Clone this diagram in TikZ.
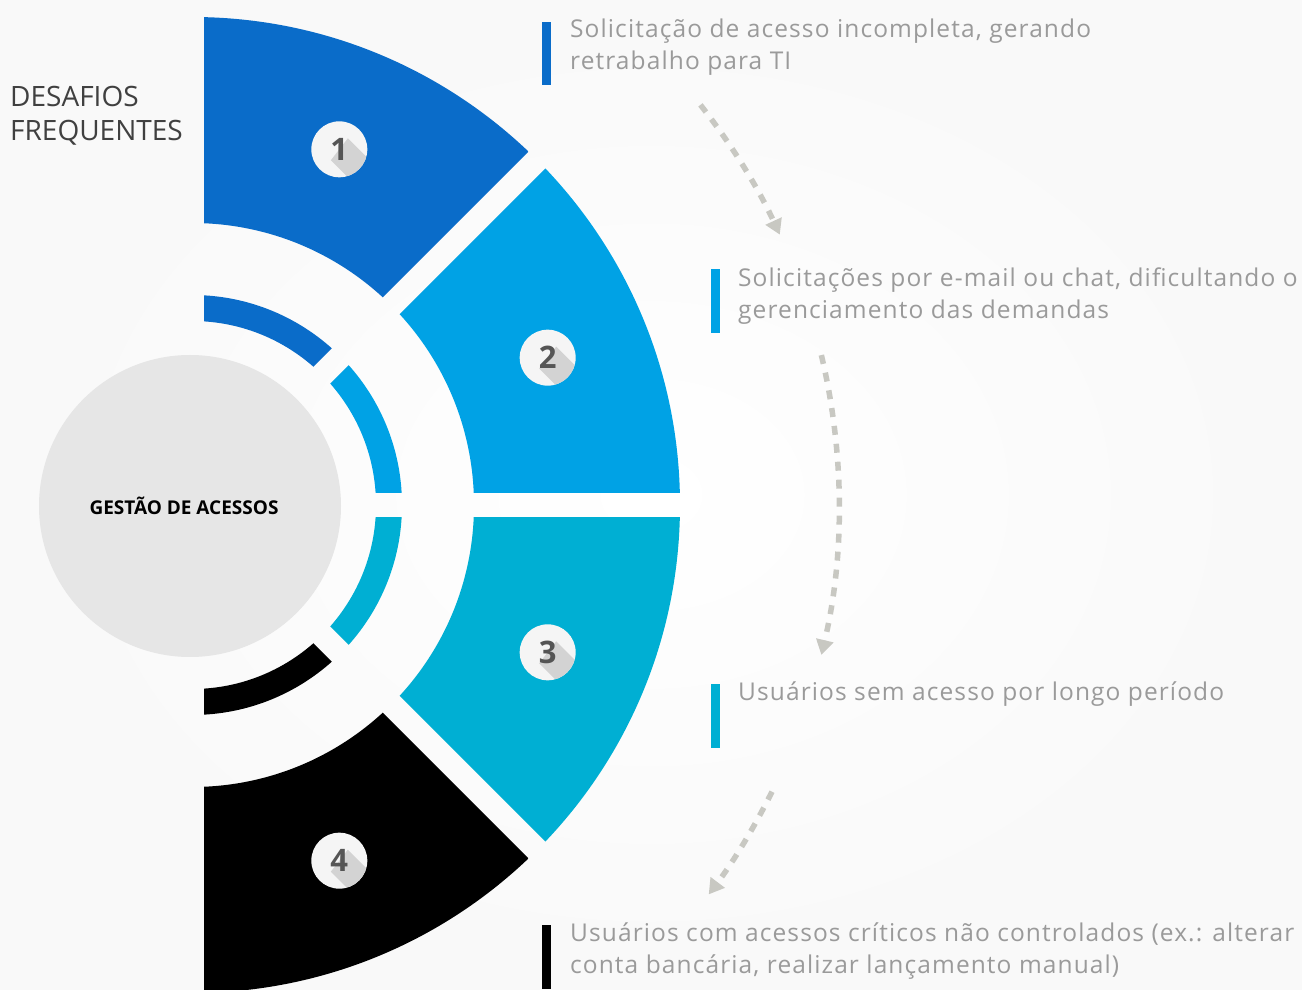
\documentclass[tikz,border=0pt]{standalone}
\usepackage{fontspec}
\setmainfont{Open Sans}
\newfontfamily\itemfont[LetterSpace=4.5]{Open Sans}
\usetikzlibrary{calc,arrows.meta}

\definecolor{segA}{HTML}{0A6CC9}
\definecolor{segB}{HTML}{00A2E5}
\definecolor{segC}{HTML}{00AFD3}
\definecolor{segD}{HTML}{000000}
\definecolor{hubgray}{HTML}{E6E6E6}
\definecolor{txtgray}{HTML}{9A9A9A}
\definecolor{titlegray}{HTML}{404040}
\definecolor{flowgray}{HTML}{C8C8C2}
\definecolor{badgefill}{HTML}{F5F5F5}
\definecolor{badgeshade}{HTML}{D3D3D3}
\definecolor{digitgray}{HTML}{555555}

\tikzset{
  badge/.style={circle, fill=badgefill, minimum size=56pt, inner sep=0pt},
  digit/.style={font=\fontsize{31}{31}\selectfont\bfseries, text=digitgray, inner sep=0pt},
  item/.style={anchor=west, align=left, text=txtgray, font=\itemfont\fontsize{24.5}{32}\selectfont, inner sep=0pt},
  flow/.style={draw=flowgray, line width=5.5pt, dash pattern=on 9pt off 9pt, -{Triangle[width=17pt,length=15pt]}}
}

\begin{document}
\begin{tikzpicture}[x=1pt, y=1pt]

% Background
\clip (0,0) rectangle (1302,989);
\shade[inner color=white, outer color=gray!5] (0,0) rectangle (1302,989);

\coordinate (C) at (192,484);

% Title
\node[anchor=west, align=left, text=titlegray, font=\fontsize{28}{34}\selectfont, inner sep=0pt] (title) at (10,873) {DESAFIOS\\FREQUENTES};

% Hub
\node[circle, fill=hubgray, minimum size=302pt, inner sep=0pt, font=\fontsize{19}{19}\selectfont\bfseries] (hub) at (190,483) {GESTÃO DE ACESSOS\hspace*{12pt}};

% Segments and badges
\foreach \i/\a/\b/\col in {1/90/45/segA, 2/45/0/segB, 3/0/-45/segC, 4/-45/-90/segD}{
  \pgfmathsetmacro{\m}{(\a+\b)/2}
  \begin{scope}
    \clip ($(C)+(\m:31.4pt)$) -- +(\a:800pt) -- +(\b:800pt) -- cycle;
    \fill[\col, even odd rule] (C) circle (488pt) (C) circle (282pt) (C) circle (210pt) (C) circle (184pt);
  \end{scope}
  \node[badge] (n\i) at ($(C)+(\m:385pt)$) {};
  \begin{scope}
    \clip (n\i) circle (28pt);
    \fill[badgeshade] ($(n\i)+(8.5,11)$) -- ++(-45:70pt) -- ($(n\i)+(-8.5,-11)+(-45:70pt)$) -- ($(n\i)+(-8.5,-11)$) -- cycle;
  \end{scope}
  \node[digit] (d\i) at (n\i) {\i};
}

% Items
\fill[segA] (542,967) rectangle (551,904);
\node[item] (t1) at (570,942) {Solicitação de acesso incompleta, gerando\\retrabalho para TI};

\fill[segB] (711,720) rectangle (720,656);
\node[item] (t2) at (738,693) {Solicitações por e-mail ou chat, dificultando o\\gerenciamento das demandas};

\fill[segC] (711,305) rectangle (720,241);
\node[item] (t3) at (738,295) {Usuários sem acesso por longo período};

\fill[segD] (542,64) rectangle (551,0);
\node[item] (t4) at (570,38) {Usuários com acessos críticos não controlados (ex.: alterar\\conta bancária, realizar lançamento manual)};

% Flow arrows
\draw[flow] ($(C)+(38.2:647pt)$) arc[start angle=38.2, end angle=24.7, radius=647pt];
\draw[flow] ($(C)+(13.4:647pt)$) arc[start angle=13.4, end angle=-13.4, radius=647pt];
\draw[flow] ($(C)+(-26.3:647pt)$) arc[start angle=-26.3, end angle=-37, radius=647pt];

\end{tikzpicture}
\end{document}
